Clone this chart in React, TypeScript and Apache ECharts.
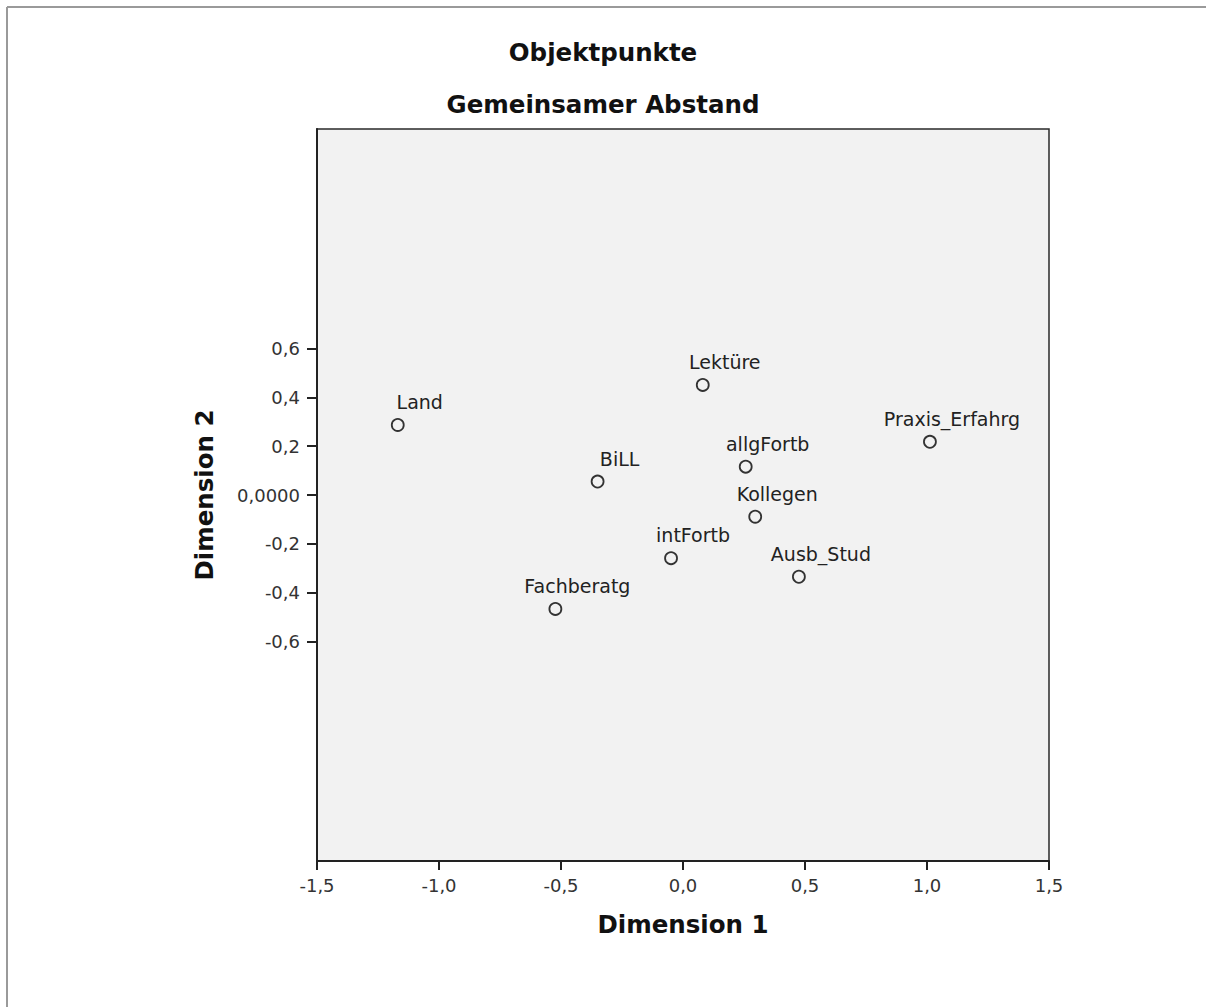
import React, { useEffect, useRef } from "react";
import * as echarts from "echarts";

const titleMain = "Objektpunkte";
const titleSub = "Gemeinsamer Abstand";
const xAxisName = "Dimension 1";
const yAxisName = "Dimension 2";

const objectNames = [
  "Land",
  "Lektüre",
  "Praxis_Erfahrg",
  "allgFortb",
  "BiLL",
  "Kollegen",
  "intFortb",
  "Ausb_Stud",
  "Fachberatg",
];
const dimension1 = [-1.169, 0.081, 1.012, 0.257, -0.35, 0.296, -0.049, 0.475, -0.523];
const dimension2 = [0.287, 0.451, 0.218, 0.116, 0.055, -0.089, -0.259, -0.335, -0.467];

const yTickValues = [-0.6, -0.4, -0.2, 0, 0.2, 0.4, 0.6];

const fmtX = (v: number) => v.toFixed(1).replace(".", ",");
const fmtY = (v: number) => (Math.abs(v) < 1e-9 ? "0,0000" : v.toFixed(1).replace(".", ","));

export default function App() {
  const ref = useRef<HTMLDivElement>(null);

  useEffect(() => {
    document.body.style.margin = "0";
    if (!ref.current) return;
    const chart = echarts.init(ref.current, null, { renderer: "svg" });
    const font = "'DejaVu Sans', Verdana, sans-serif";
    const data = objectNames.map((n, i) => ({ name: n, value: [dimension1[i], dimension2[i]] }));

    chart.setOption({
      animation: false,
      backgroundColor: "#ffffff",
      title: [
        {
          text: titleMain,
          left: "center",
          top: 37,
          padding: 0,
          textStyle: { fontFamily: font, fontWeight: "bold", fontSize: 24.5, color: "#111", lineHeight: 30 },
        },
        {
          text: titleSub,
          left: "center",
          top: 89,
          padding: 0,
          textStyle: { fontFamily: font, fontWeight: "bold", fontSize: 24.5, color: "#111", lineHeight: 30 },
        },
      ],
      graphic: [
        { type: "line", shape: { x1: 7, y1: 7, x2: 1206, y2: 7 }, style: { stroke: "#9a9a9a", lineWidth: 2 } },
        { type: "line", shape: { x1: 7, y1: 7, x2: 7, y2: 1007 }, style: { stroke: "#9a9a9a", lineWidth: 2 } },
      ],
      grid: {
        left: 317,
        top: 129,
        width: 732,
        height: 732,
        show: true,
        backgroundColor: "#f2f2f2",
        borderColor: "#2a2a2a",
        borderWidth: 1.5,
      },
      xAxis: {
        type: "value",
        min: -1.5,
        max: 1.5,
        interval: 0.5,
        name: xAxisName,
        nameLocation: "middle",
        nameGap: 51,
        nameTextStyle: { fontFamily: font, fontWeight: "bold", fontSize: 24.5, color: "#111" },
        axisLine: { show: true, onZero: false, lineStyle: { color: "#222", width: 2 } },
        axisTick: { show: true, length: 9, lineStyle: { color: "#222", width: 2 } },
        axisLabel: { fontFamily: font, fontSize: 18, color: "#333", margin: 15, formatter: fmtX },
        splitLine: { show: false },
      },
      yAxis: {
        type: "value",
        min: -1.5,
        max: 1.5,
        name: yAxisName,
        nameLocation: "middle",
        nameGap: 100,
        nameTextStyle: { fontFamily: font, fontWeight: "bold", fontSize: 24.5, color: "#111" },
        axisLine: { show: true, onZero: false, lineStyle: { color: "#222", width: 2 } },
        axisTick: { show: true, length: 10, customValues: yTickValues, lineStyle: { color: "#222", width: 2 } },
        axisLabel: {
          fontFamily: font,
          fontSize: 18,
          color: "#333",
          margin: 17,
          customValues: yTickValues,
          formatter: fmtY,
        },
        splitLine: { show: false },
      },
      series: [
        {
          type: "scatter",
          data,
          symbol: "circle",
          symbolSize: 12,
          itemStyle: { color: "#f2f2f2", borderColor: "#333", borderWidth: 1.8, opacity: 1 },
          label: {
            show: true,
            position: "inside",
            offset: [22, -23],
            align: "center",
            verticalAlign: "middle",
            formatter: (p: any) => p.name,
            fontFamily: font,
            fontSize: 19,
            color: "#222",
            textBorderWidth: 0,
          },
          emphasis: { disabled: true },
        },
      ],
    });
    return () => chart.dispose();
  }, []);

  return <div ref={ref} style={{ width: 1206, height: 1007 }} />;
}
